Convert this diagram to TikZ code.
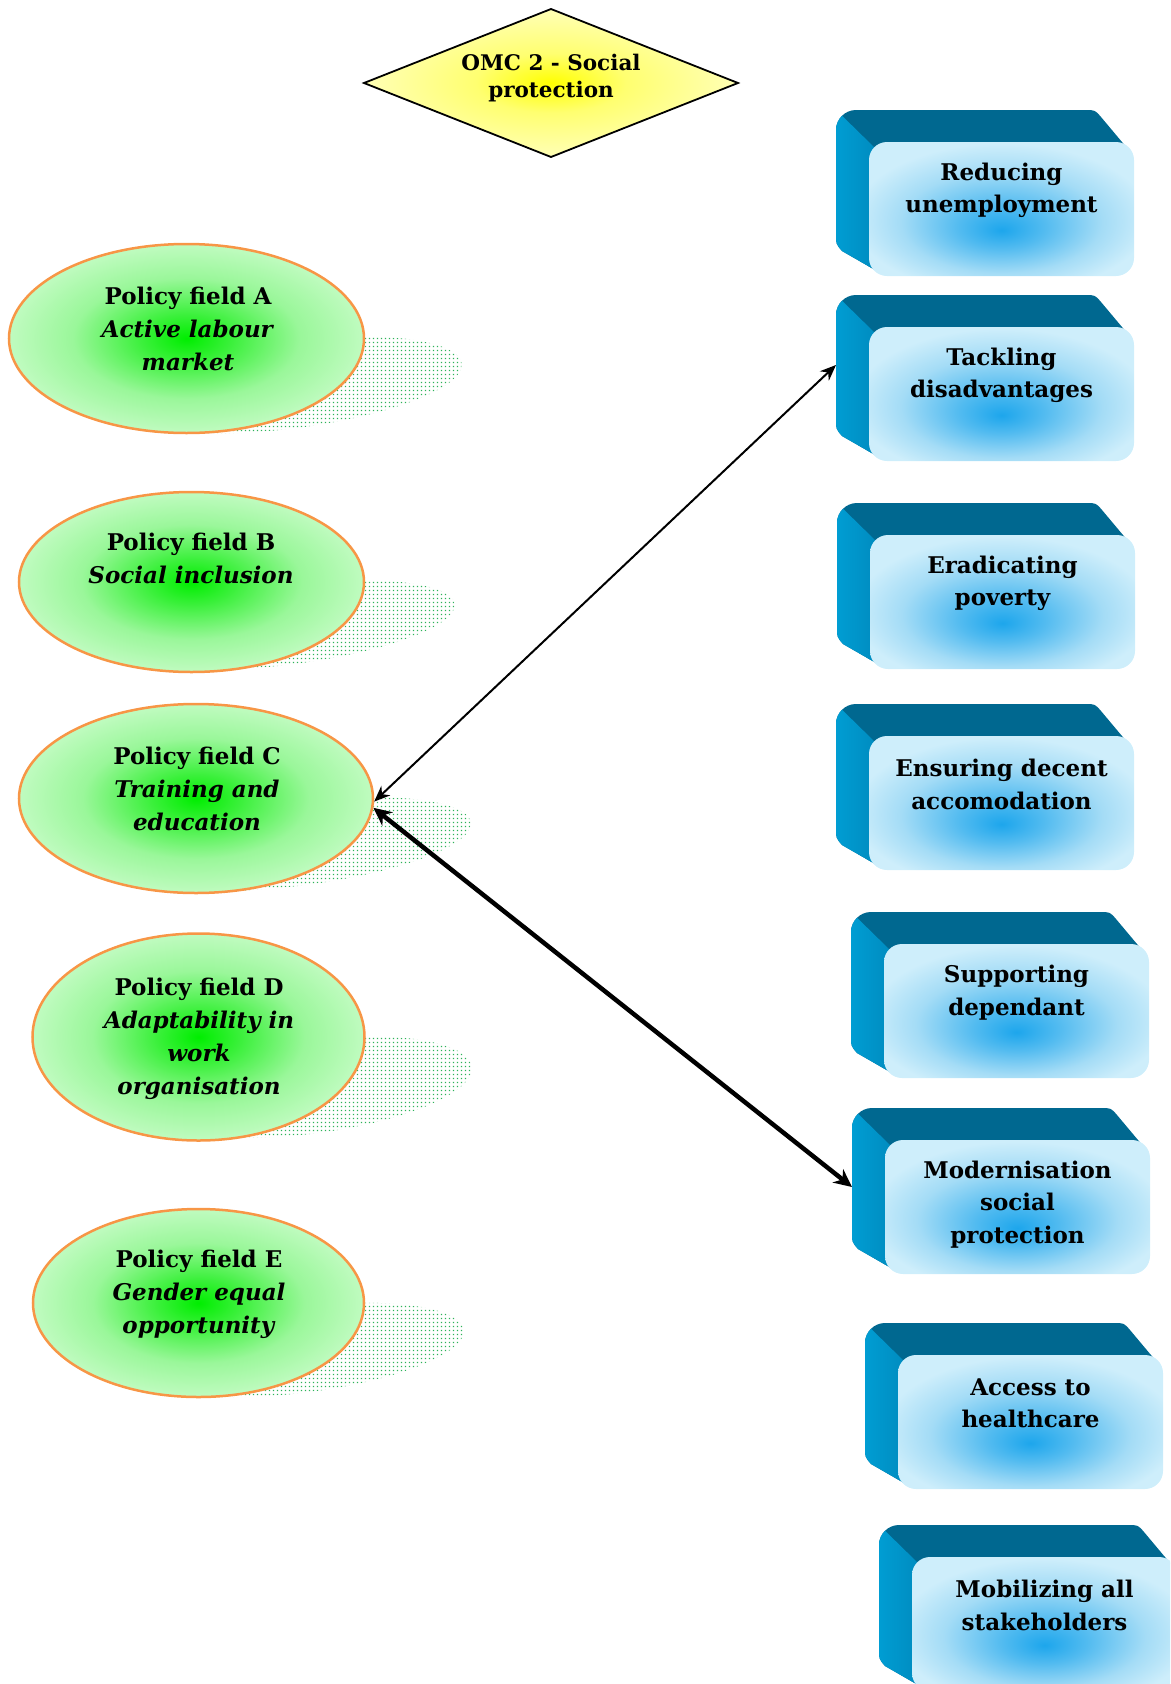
\documentclass[tikz,border=0pt]{standalone}
\usepackage{fontspec}
\setmainfont{DejaVu Serif}
\usetikzlibrary{shapes.geometric, arrows.meta, patterns.meta}

\definecolor{eorange}{HTML}{F79646}
\definecolor{gcore}{HTML}{00EE00}
\definecolor{gmid}{HTML}{38F038}
\definecolor{glite}{HTML}{9AF79A}
\definecolor{gpale}{HTML}{C8FCC8}
\definecolor{ycore}{HTML}{FFFF00}
\definecolor{ymid}{HTML}{FFFF70}
\definecolor{ypale}{HTML}{FFFFC4}
\definecolor{bcore}{HTML}{1DA6EC}
\definecolor{bmid}{HTML}{52BBF0}
\definecolor{blite}{HTML}{A4DCF6}
\definecolor{bpale}{HTML}{CEEEFB}
\definecolor{btop}{HTML}{006890}
\definecolor{bleft}{HTML}{00A0D6}
\definecolor{bleftd}{HTML}{008CC0}
\definecolor{sgreen}{HTML}{2DB35A}

\pgfdeclareradialshading{greenglow}{\pgfpoint{0bp}{0bp}}{color(0bp)=(gcore); color(6bp)=(gmid); color(16bp)=(glite); color(27bp)=(gpale); color(50bp)=(gpale)}
\pgfdeclareradialshading{yellowglow}{\pgfpoint{0bp}{0bp}}{color(0bp)=(ycore); color(10bp)=(ymid); color(28bp)=(ypale); color(50bp)=(ypale)}
\pgfdeclareradialshading{blueglow}{\pgfpoint{0bp}{-8bp}}{color(0bp)=(bcore); color(8bp)=(bmid); color(19bp)=(blite); color(28bp)=(bpale); color(50bp)=(bpale)}

\tikzdeclarepattern{
  name=shdots,
  type=uncolored,
  bounding box={(0pt,0pt) and (4pt,4pt)},
  tile size={(4pt,4pt)},
  code={\pgfpathrectangle{\pgfpoint{1pt}{1pt}}{\pgfpoint{1.6pt}{1.6pt}}\pgfusepath{fill}}
}

\tikzset{
  pfield/.style={ellipse, draw=eorange, line width=2.5pt, shade, shading=greenglow, inner sep=0pt},
  etext/.style={align=center, inner sep=0pt, font=\fontsize{23}{33}\selectfont\bfseries},
  boxtext/.style={align=center, inner sep=0pt, font=\fontsize{23}{32.5}\selectfont\bfseries},
  omctext/.style={align=center, inner sep=0pt, font=\fontsize{21.5}{27}\selectfont\bfseries},
  shadowfill/.style={pattern=shdots, pattern color=sgreen},
  thinarrow/.style={line width=2pt, {Stealth[length=16pt,width=13pt]}-{Stealth[length=16pt,width=13pt]}},
  thickarrow/.style={line width=4.5pt, {Stealth[length=18pt,width=17pt]}-{Stealth[length=18pt,width=17pt]}}
}

\newcommand{\policybox}[5]{%
  \fill[btop] ({#2-33},{#3-12}) -- ({#2-33},{#3+92}) .. controls ({#2-33},{#3+102}) .. ({#2-27},{#3+109}) -- ({#2+6},{#3+128}) -- ({#2+258},{#3+6}) -- ({#2+232},{#3-25}) .. controls ({#2+226},{#3-32}) .. ({#2+216},{#3-32}) -- ({#2-13},{#3-32}) .. controls ({#2-24},{#3-32}) and ({#2-33},{#3-23}) .. ({#2-33},{#3-12}) -- cycle;
  \begin{scope}
    \clip ({#2-33},{#3-12}) -- ({#2-33},{#3+92}) .. controls ({#2-33},{#3+102}) .. ({#2-27},{#3+109}) -- ({#2+6},{#3+128}) -- ({#2+258},{#3+6}) -- ({#2+232},{#3-25}) .. controls ({#2+226},{#3-32}) .. ({#2+216},{#3-32}) -- ({#2-13},{#3-32}) .. controls ({#2-24},{#3-32}) and ({#2-33},{#3-23}) .. ({#2-33},{#3-12}) -- cycle;
    \shade[left color=bleft, right color=bleftd] ({#2-40},{#3-39}) -- ({#2+6},{#3+6}) -- ({#2+6},{#3+140}) -- ({#2-40},{#3+140}) -- cycle;
  \end{scope}
  \shade[shading=blueglow, rounded corners=18pt] (#2,#3) rectangle ({#2+265},{#3+134});
  \coordinate (#1w) at ({#2-33},{#3+42});
  \node[boxtext] (#1) at ({#2+132.5},{#3+#4}) {#5};
}

\begin{document}
\begin{tikzpicture}[x=1pt,y=-1pt]
\useasboundingbox (0,0) rectangle (1170,1684);
\clip (0,0) rectangle (1170,1684);

% shadows
\fill[shadowfill, rotate around={7:(286,385)}] (286,385) ellipse [x radius=177pt, y radius=44pt];
\fill[shadowfill, rotate around={7:(284,625)}] (284,625) ellipse [x radius=172pt, y radius=40pt];
\fill[shadowfill, rotate around={7:(295,844)}] (295,844) ellipse [x radius=177pt, y radius=42pt];
\fill[shadowfill, rotate around={7:(307,1087)}] (307,1087) ellipse [x radius=166pt, y radius=47pt];
\fill[shadowfill, rotate around={7:(299,1350)}] (299,1350) ellipse [x radius=166pt, y radius=43pt];

% policy fields
\node[pfield, minimum width=355pt, minimum height=189pt] (polA) at (186.5,338.5) {};
\node[pfield, minimum width=345pt, minimum height=180pt] (polB) at (191.5,582) {};
\node[pfield, minimum width=354pt, minimum height=189pt] (polC) at (196,798.5) {};
\node[pfield, minimum width=332pt, minimum height=207pt] (polD) at (198.5,1037) {};
\node[pfield, minimum width=331pt, minimum height=188pt] (polE) at (198.5,1303) {};

\node[etext] (polAt) at (188,329) {Policy field A\\\textit{Active labour}\\\textit{market}};
\node[etext] (polBt) at (191,558) {Policy field B\\\textit{Social inclusion}};
\node[etext] (polCt) at (197,789) {Policy field C\\\textit{Training and}\\\textit{education}};
\node[etext] (polDt) at (199,1038.5) {Policy field D\\\textit{Adaptability in}\\\textit{work}\\\textit{organisation}};
\node[etext] (polEt) at (199,1294) {Policy field E\\\textit{Gender equal}\\\textit{opportunity}};

% diamond
\shadedraw[shading=yellowglow, draw=black, line width=1.8pt] (551,9) -- (738,83) -- (551,157) -- (364,83) -- cycle;
\node[omctext] (omc) at (551,78) {OMC 2 - Social\\protection};

% objective boxes
\policybox{red}{869}{142}{48.5}{Reducing\\unemployment}
\policybox{tack}{869}{327}{48.5}{Tackling\\disadvantages}
\policybox{erad}{870}{535}{48.5}{Eradicating\\poverty}
\policybox{ens}{869}{736}{48.5}{Ensuring decent\\accomodation}
\policybox{supp}{884}{944}{48.5}{Supporting\\dependant}
\policybox{mod}{885}{1140}{64.5}{Modernisation\\social\\protection}
\policybox{acc}{898}{1355}{48.5}{Access to\\healthcare}
\policybox{mob}{912}{1557}{48.5}{Mobilizing all\\stakeholders}

% connectors
\draw[thinarrow] (polC.-1.5) -- ([yshift=4pt]tackw);
\draw[thickarrow] (polC.-3.5) -- ([yshift=-5pt]modw);
\end{tikzpicture}
\end{document}
